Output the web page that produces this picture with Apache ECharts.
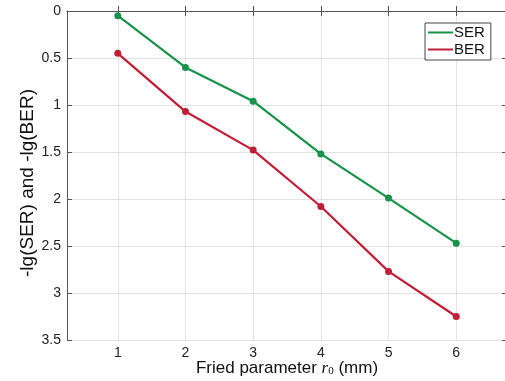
<!DOCTYPE html>
<html>
<head>
<meta charset="utf-8">
<script src="https://cdn.jsdelivr.net/npm/echarts@6/dist/echarts.min.js"></script>
<style>html,body{margin:0;padding:0;background:#fff}#c{width:505px;height:381px}</style>
</head>
<body>
<div id="c"></div>
<script>
const xValues = [1, 2, 3, 4, 5, 6];
const serValues = [0.05, 0.60, 0.96, 1.52, 1.99, 2.47];
const berValues = [0.45, 1.07, 1.48, 2.08, 2.77, 3.25];
const xTicks = [1, 2, 3, 4, 5, 6];
const seriesNames = ['SER', 'BER'];

const FONT = "'Liberation Sans', Arial, Helvetica, sans-serif";
const green = '#16924a';
const red = '#c21d37';
const frame = '#555';
const gridCol = '#e3e3e3';

const chart = echarts.init(document.getElementById('c'), null, {renderer: 'canvas'});

const xBase = {
  type: 'value', min: 0.25, max: 6.75,
  axisLine: {show: true, lineStyle: {color: frame, width: 1}},
  axisTick: {show: true, inside: true, length: 5, customValues: xTicks, lineStyle: {color: frame}},
  splitLine: {show: false},
};
const yBase = {
  type: 'value', min: 0, max: 3.5, interval: 0.5, inverse: true,
  axisLine: {show: true, lineStyle: {color: frame, width: 1}},
  axisTick: {show: true, inside: true, length: 5, lineStyle: {color: frame}},
  splitLine: {show: false},
};

chart.setOption({
  animation: false,
  backgroundColor: '#fff',
  textStyle: {fontFamily: FONT},
  grid: {left: 67, top: 11, width: 440, height: 329, containLabel: false, outerBoundsMode: 'none'},
  legend: {
    orient: 'vertical', left: 425, top: 23,
    data: seriesNames,
    icon: 'rect', itemWidth: 25, itemHeight: 2, itemGap: 2,
    padding: [2, 6, 3, 3],
    borderColor: '#444', borderWidth: 1, backgroundColor: '#fff',
    textStyle: {fontFamily: FONT, fontSize: 15, color: '#111', padding: [0, 0, 0, -4]}
  },
  xAxis: [
    Object.assign({}, xBase, {
      position: 'bottom',
      name: '{a|Fried parameter }{i|r}{s|0}{a| (mm)}',
      nameLocation: 'middle', nameGap: 20, nameMoveOverlap: false,
      nameTextStyle: {
        verticalAlign: 'top',
        rich: {
          a: {fontFamily: FONT, fontSize: 17, color: '#111'},
          i: {fontFamily: "'Liberation Serif', serif", fontStyle: 'italic', fontSize: 17, color: '#111'},
          s: {fontFamily: "'Liberation Serif', serif", fontSize: 11, color: '#111', verticalAlign: 'bottom', padding: [5, 0, 0, 0]}
        }
      },
      axisLabel: {customValues: xTicks, fontFamily: FONT, fontSize: 14, color: '#222', margin: 6},
      splitLine: {show: true, lineStyle: {color: gridCol, width: 1}}
    }),
    Object.assign({}, xBase, {position: 'top', axisLabel: {show: false}})
  ],
  yAxis: [
    Object.assign({}, yBase, {
      position: 'left',
      name: '-lg(SER) and -lg(BER)',
      nameLocation: 'middle', nameGap: 30, nameRotate: 90, nameMoveOverlap: false,
      nameTextStyle: {fontFamily: FONT, fontSize: 19, color: '#111', padding: [0, 15, 0, 0]},
      axisLabel: {fontFamily: FONT, fontSize: 14, color: '#222', margin: 6},
      splitLine: {show: true, lineStyle: {color: gridCol, width: 1}}
    }),
    Object.assign({}, yBase, {position: 'right', axisLabel: {show: false}})
  ],
  series: [
    {
      name: seriesNames[0], type: 'line', xAxisIndex: 0, yAxisIndex: 0,
      data: xValues.map((x, i) => [x, serValues[i]]),
      symbol: 'circle', symbolSize: 7,
      lineStyle: {color: green, width: 2.2}, itemStyle: {color: green}
    },
    {
      name: seriesNames[1], type: 'line', xAxisIndex: 0, yAxisIndex: 0,
      data: xValues.map((x, i) => [x, berValues[i]]),
      symbol: 'circle', symbolSize: 7,
      lineStyle: {color: red, width: 2.2}, itemStyle: {color: red}
    }
  ]
});
</script>
</body>
</html>
